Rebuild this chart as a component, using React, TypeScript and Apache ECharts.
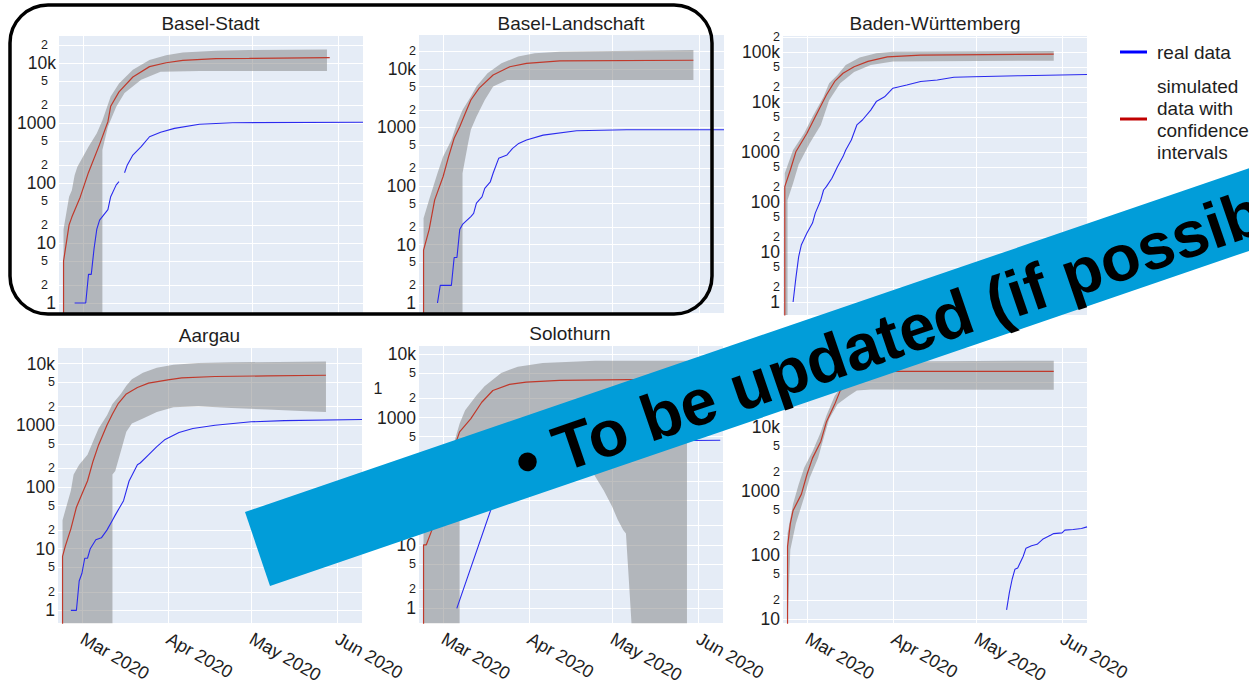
import React, { useEffect, useRef } from 'react';
import * as echarts from 'echarts';

type Pt = [string, number | null];

const MONTHS = ['Jan', 'Feb', 'Mar', 'Apr', 'May', 'Jun', 'Jul', 'Aug', 'Sep', 'Oct', 'Nov', 'Dec'];
const X_MIN = '2020-02-21';
const X_MAX = '2020-06-10';

// ---------- Basel-Stadt ----------
const BS_REAL: Pt[] = [['2020-02-27', 1], ['2020-03-02', 1], ['2020-03-03', 3], ['2020-03-04', 3], ['2020-03-05', 8], ['2020-03-06', 17], ['2020-03-07', 24], ['2020-03-10', 36], ['2020-03-11', 59], ['2020-03-13', 93], ['2020-03-14', 105], ['2020-03-15', null], ['2020-03-16', 148], ['2020-03-17', 200], ['2020-03-19', 292], ['2020-03-22', 403], ['2020-03-25', 590], ['2020-03-29', 700], ['2020-04-03', 814], ['2020-04-12', 954], ['2020-04-24', 1010], ['2020-06-10', 1030]];
const BS_SIM: Pt[] = [['2020-02-23', 0.1], ['2020-02-23', 5], ['2020-02-25', 20], ['2020-02-26', 27], ['2020-02-29', 58], ['2020-03-03', 150], ['2020-03-07', 440], ['2020-03-10', 1050], ['2020-03-11', 1900], ['2020-03-14', 3300], ['2020-03-19', 5850], ['2020-03-25', 8700], ['2020-03-31', 10100], ['2020-04-06', 11100], ['2020-04-18', 11800], ['2020-04-30', 11900], ['2020-05-29', 12300]];
const BS_UPPER: Pt[] = [['2020-02-23', 17], ['2020-02-25', 59], ['2020-02-26', 76], ['2020-02-27', 135], ['2020-02-28', 187], ['2020-03-01', 274], ['2020-03-03', 403], ['2020-03-06', 674], ['2020-03-08', 1100], ['2020-03-11', 2770], ['2020-03-14', 4540], ['2020-03-19', 7700], ['2020-03-25', 11200], ['2020-03-31', 13500], ['2020-04-06', 15000], ['2020-04-18', 16000], ['2020-04-30', 16400], ['2020-05-28', 16800]];
const BS_LOWER: Pt[] = [['2020-02-23', 0], ['2020-03-08', 0], ['2020-03-08', 355], ['2020-03-10', 866], ['2020-03-13', 1870], ['2020-03-16', 3150], ['2020-03-22', 5270], ['2020-03-29', 7150], ['2020-04-12', 7360], ['2020-05-28', 7360]];

// ---------- Basel-Landschaft ----------
const BL_REAL: Pt[] = [['2020-02-28', 1], ['2020-02-29', 2], ['2020-03-04', 2], ['2020-03-05', 6], ['2020-03-06', 6], ['2020-03-07', 18], ['2020-03-08', 22], ['2020-03-11', 30], ['2020-03-12', 34], ['2020-03-13', 51], ['2020-03-15', 65], ['2020-03-16', 91], ['2020-03-18', 118], ['2020-03-19', 165], ['2020-03-21', 297], ['2020-03-24', 340], ['2020-03-26', 440], ['2020-03-28', 525], ['2020-03-31', 612], ['2020-04-06', 740], ['2020-04-18', 880], ['2020-05-06', 914], ['2020-06-10', 914]];
const BL_SIM: Pt[] = [['2020-02-23', 0.1], ['2020-02-23', 8], ['2020-02-25', 18], ['2020-02-27', 58], ['2020-03-01', 144], ['2020-03-03', 317], ['2020-03-05', 655], ['2020-03-07', 1030], ['2020-03-09', 1750], ['2020-03-11', 2950], ['2020-03-14', 4700], ['2020-03-19', 7900], ['2020-03-25', 10900], ['2020-03-31', 12500], ['2020-04-12', 13700], ['2020-05-30', 14100]];
const BL_UPPER: Pt[] = [['2020-02-23', 28], ['2020-02-25', 58], ['2020-02-28', 165], ['2020-03-01', 317], ['2020-03-04', 612], ['2020-03-06', 1180], ['2020-03-08', 1980], ['2020-03-11', 3370], ['2020-03-13', 5000], ['2020-03-17', 8460], ['2020-03-22', 12500], ['2020-03-28', 16300], ['2020-04-03', 18500], ['2020-04-12', 19700], ['2020-05-30', 21100]];
const BL_LOWER: Pt[] = [['2020-02-23', 0], ['2020-03-08', 0], ['2020-03-08', 165], ['2020-03-10', 538], ['2020-03-11', 914], ['2020-03-13', 1530], ['2020-03-16', 2950], ['2020-03-19', 5000], ['2020-03-24', 6450], ['2020-05-30', 6450]];

// ---------- Baden-Württemberg ----------
const BW_REAL: Pt[] = [['2020-02-25', 1], ['2020-02-26', 3], ['2020-02-27', 8], ['2020-02-28', 14], ['2020-03-01', 24], ['2020-03-03', 38], ['2020-03-04', 60], ['2020-03-06', 110], ['2020-03-07', 174], ['2020-03-08', 203], ['2020-03-10', 298], ['2020-03-12', 510], ['2020-03-14', 810], ['2020-03-15', 1100], ['2020-03-17', 1740], ['2020-03-19', 3480], ['2020-03-21', 4370], ['2020-03-24', 6900], ['2020-03-26', 10200], ['2020-03-29', 12700], ['2020-04-01', 18900], ['2020-04-06', 21900], ['2020-04-11', 25800], ['2020-04-17', 27500], ['2020-04-23', 31300], ['2020-04-30', 32000], ['2020-05-17', 33600], ['2020-06-10', 35600]];
const BW_SIM: Pt[] = [['2020-02-22', 0.1], ['2020-02-22', 203], ['2020-02-24', 437], ['2020-02-26', 1010], ['2020-03-01', 2380], ['2020-03-04', 5080], ['2020-03-08', 13800], ['2020-03-11', 25800], ['2020-03-14', 37600], ['2020-03-18', 50700], ['2020-03-23', 65000], ['2020-03-30', 80000], ['2020-04-11', 87000], ['2020-05-29', 91000]];
const BW_UPPER: Pt[] = [['2020-02-22', 375], ['2020-02-25', 1096], ['2020-02-29', 2380], ['2020-03-03', 5080], ['2020-03-07', 12700], ['2020-03-09', 23700], ['2020-03-12', 34700], ['2020-03-15', 55000], ['2020-03-20', 78000], ['2020-03-26', 94000], ['2020-04-01', 101000], ['2020-05-29', 105000]];
const BW_LOWER: Pt[] = [['2020-02-22', 0], ['2020-02-23', 0], ['2020-02-23', 110], ['2020-02-25', 237], ['2020-02-27', 560], ['2020-03-02', 1490], ['2020-03-06', 3480], ['2020-03-09', 10900], ['2020-03-13', 23700], ['2020-03-18', 40000], ['2020-03-24', 55000], ['2020-04-01', 65000], ['2020-05-29', 67000]];

// ---------- Aargau ----------
const AG_REAL: Pt[] = [['2020-02-26', 1], ['2020-02-28', 1], ['2020-02-29', 3], ['2020-03-01', 4], ['2020-03-02', 7], ['2020-03-03', 7], ['2020-03-04', 10], ['2020-03-06', 14], ['2020-03-08', 15], ['2020-03-10', 20], ['2020-03-12', 29], ['2020-03-13', 35], ['2020-03-16', 60], ['2020-03-18', 125], ['2020-03-21', 230], ['2020-03-22', 245], ['2020-03-25', 333], ['2020-03-28', 452], ['2020-03-31', 590], ['2020-04-05', 765], ['2020-04-10', 890], ['2020-04-18', 1000], ['2020-05-01', 1140], ['2020-05-13', 1190], ['2020-06-10', 1240]];
const AG_SIM: Pt[] = [['2020-02-23', 0.1], ['2020-02-23', 7.5], ['2020-02-24', 11], ['2020-02-26', 21], ['2020-02-28', 47], ['2020-03-01', 77], ['2020-03-03', 125], ['2020-03-05', 262], ['2020-03-07', 481], ['2020-03-10', 1000], ['2020-03-12', 1530], ['2020-03-14', 2220], ['2020-03-17', 3220], ['2020-03-21', 4110], ['2020-03-25', 4820], ['2020-04-01', 5450], ['2020-04-06', 5870], ['2020-04-18', 6180], ['2020-05-07', 6330], ['2020-05-28', 6480]];
const AG_UPPER: Pt[] = [['2020-02-23', 29], ['2020-02-24', 42], ['2020-02-26', 87], ['2020-02-27', 160], ['2020-02-29', 230], ['2020-03-03', 333], ['2020-03-05', 545], ['2020-03-07', 890], ['2020-03-10', 1440], ['2020-03-12', 2220], ['2020-03-15', 3220], ['2020-03-17', 4360], ['2020-03-19', 5590], ['2020-03-23', 7140], ['2020-03-28', 8600], ['2020-04-03', 9570], ['2020-04-12', 10200], ['2020-04-24', 10500], ['2020-05-28', 10800]];
const AG_LOWER: Pt[] = [['2020-02-23', 0], ['2020-03-12', 0], ['2020-03-12', 160], ['2020-03-13', 182], ['2020-03-15', 377], ['2020-03-17', 787], ['2020-03-19', 1070], ['2020-03-23', 1290], ['2020-03-28', 1640], ['2020-04-03', 1970], ['2020-04-12', 2040], ['2020-04-24', 1900], ['2020-05-07', 1800], ['2020-05-19', 1700], ['2020-05-28', 1640]];

// ---------- Solothurn ----------
const SO_REAL: Pt[] = [['2020-03-06', 1], ['2020-03-19', 44], ['2020-03-24', 150], ['2020-03-31', 270], ['2020-04-10', 350], ['2020-04-20', 395], ['2020-05-01', 415], ['2020-05-20', 432], ['2020-06-09', 440]];
const SO_SIM: Pt[] = [['2020-02-23', 0.1], ['2020-02-23', 10], ['2020-02-24', 10], ['2020-02-26', 17], ['2020-03-01', 80], ['2020-03-04', 250], ['2020-03-07', 595], ['2020-03-11', 955], ['2020-03-15', 1740], ['2020-03-19', 2660], ['2020-03-25', 3320], ['2020-03-31', 3600], ['2020-04-12', 3850], ['2020-05-07', 3950], ['2020-05-28', 3950]];
const SO_UPPER: Pt[] = [['2020-02-23', 30], ['2020-02-27', 100], ['2020-03-02', 220], ['2020-03-05', 400], ['2020-03-07', 800], ['2020-03-09', 1300], ['2020-03-13', 2200], ['2020-03-16', 3100], ['2020-03-22', 5000], ['2020-03-25', 5650], ['2020-03-28', 6300], ['2020-04-06', 7200], ['2020-04-25', 7800], ['2020-05-28', 7800]];
const SO_LOWER: Pt[] = [['2020-02-23', 0], ['2020-03-07', 0], ['2020-03-07', 150], ['2020-03-09', 250], ['2020-03-14', 350], ['2020-03-25', 400], ['2020-04-05', 400], ['2020-04-12', 330], ['2020-04-18', 250], ['2020-04-23', 162], ['2020-04-28', 71], ['2020-05-01', 40], ['2020-05-03', 25], ['2020-05-05', 17], ['2020-05-06', 15], ['2020-05-07', 3], ['2020-05-08', 0], ['2020-05-28', 0]];

// ---------- sixth panel (title hidden under the banner) ----------
const P6_REAL: Pt[] = [['2020-05-12', 14], ['2020-05-13', 26], ['2020-05-14', 42], ['2020-05-15', 60], ['2020-05-16', 63], ['2020-05-18', 96], ['2020-05-19', 128], ['2020-05-21', 140], ['2020-05-23', 147], ['2020-05-25', 176], ['2020-05-28', 205], ['2020-05-29', 216], ['2020-06-01', 222], ['2020-06-02', 245], ['2020-06-05', 250], ['2020-06-08', 259], ['2020-06-10', 275]];
const P6_SIM: Pt[] = [['2020-02-23', 1], ['2020-02-23', 135], ['2020-02-24', 309], ['2020-02-25', 495], ['2020-02-28', 890], ['2020-03-01', 1800], ['2020-03-03', 3240], ['2020-03-06', 5900], ['2020-03-08', 11800], ['2020-03-11', 22300], ['2020-03-13', 36500], ['2020-03-17', 52000], ['2020-03-22', 65000], ['2020-04-01', 73000], ['2020-05-29', 73000]];
const P6_UPPER: Pt[] = [['2020-02-23', 217], ['2020-02-25', 625], ['2020-02-27', 1260], ['2020-02-29', 2300], ['2020-03-03', 4100], ['2020-03-06', 8300], ['2020-03-08', 14800], ['2020-03-11', 30000], ['2020-03-16', 60000], ['2020-03-22', 90000], ['2020-04-01', 104000], ['2020-05-29', 107000]];
const P6_LOWER: Pt[] = [['2020-02-23', 0], ['2020-02-24', 121], ['2020-02-26', 309], ['2020-02-29', 795], ['2020-03-02', 1600], ['2020-03-05', 3240], ['2020-03-07', 6600], ['2020-03-09', 13200], ['2020-03-12', 22300], ['2020-03-16', 30000], ['2020-03-19', 36500], ['2020-03-24', 38000], ['2020-05-29', 37500]];

const TITLES = ['Basel-Stadt', 'Basel-Landschaft', 'Baden-Württemberg', 'Aargau', 'Solothurn', ''];
const LEGEND_LABELS = ['real data', 'simulated\ndata with\nconfidence\nintervals'];
const BANNER_TEXT = '• To be updated (if possible)';

const FONT = '"Liberation Sans", Arial, Helvetica, sans-serif';
const TXT = '#1e1e1e';
const RED = '#c0392b';
const BLUE = '#2a2aee';
const BAND = 'rgba(128,128,128,0.5)';
const PLOT_BG = '#E5ECF6';

const PANELS = [
  { title: TITLES[0], tx: 210.5, ty: 23, left: 58, top: 35, width: 305, height: 278, yMin: 0.68, yMax: 29300, minorMargin: 10, showX: false, real: BS_REAL, sim: BS_SIM, upper: BS_UPPER, lower: BS_LOWER },
  { title: TITLES[1], tx: 571, ty: 23, left: 418, top: 34, width: 306, height: 279, yMin: 0.675, yMax: 39600, minorMargin: 2, showX: false, real: BL_REAL, sim: BL_SIM, upper: BL_UPPER, lower: BL_LOWER },
  { title: TITLES[2], tx: 935, ty: 23, left: 782, top: 35, width: 305, height: 280, yMin: 0.55, yMax: 219000, minorMargin: 2, showX: false, real: BW_REAL, sim: BW_SIM, upper: BW_UPPER, lower: BW_LOWER },
  { title: TITLES[3], tx: 209.5, ty: 335, left: 57, top: 347, width: 305, height: 281, yMin: 0.62, yMax: 18600, minorMargin: 2, showX: true, real: AG_REAL, sim: AG_SIM, upper: AG_UPPER, lower: AG_LOWER },
  { title: TITLES[4], tx: 570, ty: 333, left: 418, top: 345, width: 305, height: 283, yMin: 0.586, yMax: 13800, minorMargin: 2, showX: true, real: SO_REAL, sim: SO_SIM, upper: SO_UPPER, lower: SO_LOWER },
  { title: TITLES[5], tx: 935, ty: 335, left: 782, top: 347, width: 305, height: 281, yMin: 8.68, yMax: 174600, minorMargin: 2, showX: true, real: P6_REAL, sim: P6_SIM, upper: P6_UPPER, lower: P6_LOWER },
];

const toTs = (d: string) => {
  const [y, m, dd] = d.split('-').map(Number);
  return Date.UTC(y, m - 1, dd);
};
const isPow10 = (v: number) => {
  const l = Math.log10(v);
  return Math.abs(l - Math.round(l)) < 1e-6;
};
const fmtMajor = (v: number) => {
  if (!isPow10(v)) return '';
  const r = Math.round(v);
  return r >= 10000 ? r / 1000 + 'k' : String(r);
};
const DAY = 86400000;

function buildOption() {
  const grid: any[] = [];
  const xAxis: any[] = [];
  const yAxis: any[] = [];
  const series: any[] = [];
  const graphics: any[] = [];

  PANELS.forEach((p, i) => {
    grid.push({ left: p.left, top: p.top, width: p.width, height: p.height, show: true, backgroundColor: PLOT_BG, borderWidth: 0, containLabel: false });
    xAxis.push({
      type: 'time', gridIndex: i, min: toTs(X_MIN), max: toTs(X_MAX),
      minInterval: 28 * DAY, maxInterval: 31 * DAY,
      axisLine: { show: false }, axisTick: { show: false },
      splitLine: { show: true, lineStyle: { color: '#ffffff', width: 1 } },
      axisLabel: {
        show: p.showX, rotate: -30, margin: 14, fontSize: 18, color: TXT, fontFamily: FONT, hideOverlap: false,
        formatter: (v: number) => {
          const d = new Date(v);
          return d.getUTCDate() === 1 ? MONTHS[d.getUTCMonth()] + ' ' + d.getUTCFullYear() : '';
        },
      },
    });
    const base = {
      type: 'log', logBase: 10, gridIndex: i, position: 'left', splitNumber: 5,
      axisLine: { show: false }, axisTick: { show: false },
      splitLine: { show: true, lineStyle: { color: '#ffffff', width: 1 } },
    };
    yAxis.push({ ...base, min: p.yMin, max: p.yMax, axisLabel: { fontSize: 17.5, color: TXT, fontFamily: FONT, margin: 2, formatter: fmtMajor } });
    yAxis.push({ ...base, min: p.yMin / 2, max: p.yMax / 2, axisLabel: { fontSize: 12.5, color: TXT, fontFamily: FONT, margin: p.minorMargin, formatter: (v: number) => (isPow10(v) ? '2' : '') } });
    yAxis.push({ ...base, min: p.yMin / 5, max: p.yMax / 5, axisLabel: { fontSize: 12.5, color: TXT, fontFamily: FONT, margin: p.minorMargin, formatter: (v: number) => (isPow10(v) ? '5' : '') } });

    const upper = p.upper;
    const lower = p.lower;
    const yMin = p.yMin;
    series.push({
      type: 'custom', xAxisIndex: i, yAxisIndex: 3 * i, silent: true, z: 1,
      data: [[toTs(upper[0][0]), upper[0][1]]],
      renderItem: (_params: any, api: any) => {
        const pts: number[][] = [];
        upper.forEach(([d, v]) => pts.push(api.coord([toTs(d), Math.max(v as number, yMin)])));
        for (let k = lower.length - 1; k >= 0; k--) {
          const [d, v] = lower[k];
          pts.push(api.coord([toTs(d), Math.max(v as number, yMin)]));
        }
        return { type: 'polygon', shape: { points: pts }, style: { fill: BAND } };
      },
    });
    series.push({
      type: 'line', xAxisIndex: i, yAxisIndex: 3 * i, silent: true, z: 3, showSymbol: false, connectNulls: false,
      data: p.sim.map(([d, v]) => [toTs(d), v]),
      lineStyle: { color: RED, width: 1.2 }, itemStyle: { color: RED },
    });
    series.push({
      type: 'line', xAxisIndex: i, yAxisIndex: 3 * i, silent: true, z: 4, showSymbol: false, connectNulls: false,
      data: p.real.map(([d, v]) => [toTs(d), v]),
      lineStyle: { color: BLUE, width: 1.1 }, itemStyle: { color: BLUE },
    });

    if (p.title) {
      graphics.push({ type: 'text', x: p.tx, y: p.ty, z: 50, style: { text: p.title, fontSize: 19, fontFamily: FONT, fill: TXT, textAlign: 'center', textVerticalAlign: 'middle' } });
    }
  });

  // stray glyph fragment visible in the slide
  graphics.push({ type: 'text', x: 378, y: 388, z: 50, style: { text: '1', fontSize: 16, fontFamily: FONT, fill: TXT, textAlign: 'center', textVerticalAlign: 'middle' } });

  // legend
  graphics.push({ type: 'line', z: 50, shape: { x1: 1120, y1: 52, x2: 1147, y2: 52 }, style: { stroke: '#0000ff', lineWidth: 3 } });
  graphics.push({ type: 'text', x: 1157, y: 52, z: 50, style: { text: LEGEND_LABELS[0], fontSize: 19, fontFamily: FONT, fill: TXT, textVerticalAlign: 'middle' } });
  graphics.push({ type: 'line', z: 50, shape: { x1: 1120, y1: 119, x2: 1147, y2: 119 }, style: { stroke: '#c00000', lineWidth: 3 } });
  graphics.push({ type: 'text', x: 1157, y: 75, z: 50, style: { text: LEGEND_LABELS[1], fontSize: 19, lineHeight: 22, fontFamily: FONT, fill: TXT, textVerticalAlign: 'top' } });

  // rounded frame around the two Basel panels
  graphics.push({ type: 'rect', z: 100, shape: { x: 10, y: 5, width: 702, height: 309, r: 38 }, style: { fill: 'none', stroke: '#000', lineWidth: 3.5 } });

  // banner
  graphics.push({ type: 'polygon', z: 110, shape: { points: [[245, 512], [270, 586], [1310, 230], [1285, 156]] }, style: { fill: '#019DD9' } });
  graphics.push({ type: 'text', z: 111, x: 516.5, y: 464.5, rotation: 0.3296, style: { text: BANNER_TEXT, fontSize: 65, fontWeight: 'bold', fontFamily: FONT, fill: '#000', textAlign: 'left', textVerticalAlign: 'middle' } });

  return {
    animation: false,
    useUTC: true,
    backgroundColor: '#ffffff',
    grid, xAxis, yAxis, series,
    graphic: { elements: graphics },
  };
}

export default function App() {
  const ref = useRef<HTMLDivElement>(null);
  useEffect(() => {
    if (!ref.current) return;
    const chart = echarts.init(ref.current, null, { renderer: 'svg' });
    chart.setOption(buildOption() as any);
    return () => chart.dispose();
  }, []);
  return <div ref={ref} style={{ position: 'absolute', left: 0, top: 0, width: 1249, height: 686, background: '#fff' }} />;
}
